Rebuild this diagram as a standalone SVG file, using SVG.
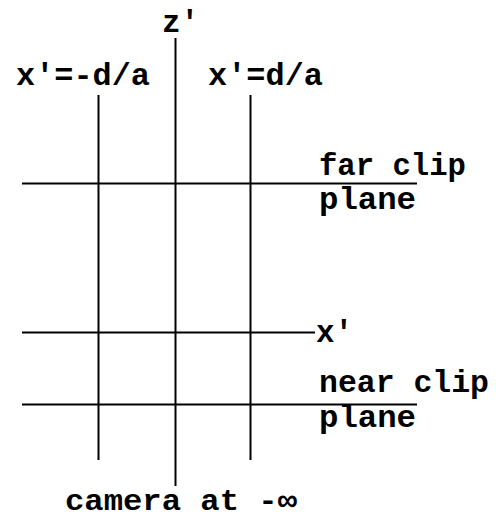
<svg xmlns="http://www.w3.org/2000/svg" width="496" height="518" viewBox="0 0 496 518">
<style>
.t{font-family:"Liberation Mono","DejaVu Sans Mono",monospace;font-weight:bold;font-size:31px;fill:#000}
.l{stroke:#000;stroke-width:2;fill:none}
</style>
<rect width="496" height="518" fill="#fff"/>
<g id="connectors">
<line class="l" x1="98.5" y1="95" x2="98.5" y2="460"/>
<line class="l" x1="175.5" y1="38" x2="175.5" y2="486"/>
<line class="l" x1="250.5" y1="95" x2="250.5" y2="460"/>
<line class="l" x1="22" y1="183.5" x2="417" y2="183.5"/>
<line class="l" x1="22" y1="332.5" x2="315" y2="332.5"/>
<line class="l" x1="22" y1="404.5" x2="417" y2="404.5"/>
</g>
<g id="z-axis-label"><text class="t" x="162" y="32">z'</text></g>
<g id="left-bound"><text class="t" x="16" y="85" textLength="134" lengthAdjust="spacingAndGlyphs">x'=-d/a</text></g>
<g id="right-bound"><text class="t" x="208" y="85" textLength="115" lengthAdjust="spacingAndGlyphs">x'=d/a</text></g>
<g id="far-clip"><text class="t" x="319" y="175" textLength="147" lengthAdjust="spacingAndGlyphs">far clip</text><text class="t" x="319" y="209" textLength="97" lengthAdjust="spacingAndGlyphs">plane</text></g>
<g id="x-axis-label"><text class="t" x="316" y="342">x'</text></g>
<g id="near-clip"><text class="t" x="319" y="392" textLength="170" lengthAdjust="spacingAndGlyphs">near clip</text><text class="t" x="319" y="427" textLength="97" lengthAdjust="spacingAndGlyphs">plane</text></g>
<g id="camera"><text class="t" x="65" y="510" style="font-size:30px" textLength="232" lengthAdjust="spacingAndGlyphs">camera at -∞</text></g>
</svg>
